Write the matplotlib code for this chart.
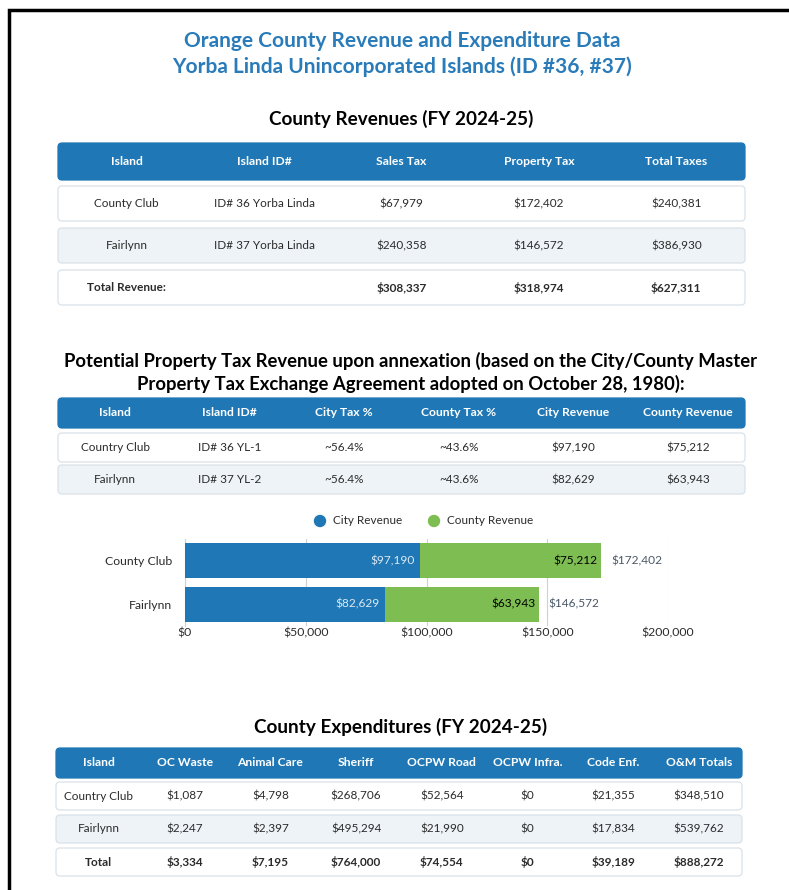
import matplotlib
matplotlib.use("Agg")
import matplotlib.pyplot as plt
from matplotlib.patches import FancyBboxPatch, Circle
import numpy as np

plt.rcParams['font.family'] = ['Lato', 'DejaVu Sans']

BLUE = '#1f78b5'
GREEN = '#7dbd52'
LIGHT = '#eef3f7'
EDGE = '#d9e2ea'
TXT = '#2b2b2b'

# --- data ---
rev_header = ['Island', 'Island ID#', 'Sales Tax', 'Property Tax', 'Total Taxes']
rev_rows = [
    ['County Club', 'ID# 36 Yorba Linda', '$67,979', '$172,402', '$240,381'],
    ['Fairlynn', 'ID# 37 Yorba Linda', '$240,358', '$146,572', '$386,930'],
    ['Total Revenue:', '', '$308,337', '$318,974', '$627,311'],
]

ptx_header = ['Island', 'Island ID#', 'City Tax %', 'County Tax %', 'City Revenue', 'County Revenue']
ptx_rows = [
    ['Country Club', 'ID# 36 YL-1', '~56.4%', '~43.6%', '$97,190', '$75,212'],
    ['Fairlynn', 'ID# 37 YL-2', '~56.4%', '~43.6%', '$82,629', '$63,943'],
]

bar_islands = ['County Club', 'Fairlynn']
city_revenue = [97190, 82629]
county_revenue = [75212, 63943]

exp_header = ['Island', 'OC Waste', 'Animal Care', 'Sheriff', 'OCPW Road',
              'OCPW Infra.', 'Code Enf.', 'O&M Totals']
exp_rows = [
    ['Country Club', '$1,087', '$4,798', '$268,706', '$52,564', '$0', '$21,355', '$348,510'],
    ['Fairlynn', '$2,247', '$2,397', '$495,294', '$21,990', '$0', '$17,834', '$539,762'],
    ['Total', '$3,334', '$7,195', '$764,000', '$74,554', '$0', '$39,189', '$888,272'],
]

W, H = 789, 890
fig = plt.figure(figsize=(W / 100, H / 100), dpi=100)
ax = fig.add_axes([0, 0, 1, 1])
ax.set_xlim(0, W)
ax.set_ylim(H, 0)
ax.axis('off')

# page border
ax.plot([9, 9, W], [H, 10, 10], color='black', lw=2.5, solid_joinstyle='miter')


def box(x0, y0, x1, y1, fc, ec):
    ax.add_patch(FancyBboxPatch((x0, y0), x1 - x0, y1 - y0,
                                boxstyle='round,pad=0,rounding_size=4',
                                fc=fc, ec=ec, lw=0.9))


def table(x0, x1, header, head_y, rows, rows_y, fs, bold_last=False):
    n = len(header)
    cx = x0 + (np.arange(n) + 0.5) * (x1 - x0) / n
    box(x0, head_y[0], x1, head_y[1], BLUE, BLUE)
    for c, h in zip(cx, header):
        ax.text(c, sum(head_y) / 2, h, ha='center', va='center', color='white',
                fontsize=fs + 0.2, fontweight='bold')
    for i, (row, (ya, yb)) in enumerate(zip(rows, rows_y)):
        box(x0, ya, x1, yb, LIGHT if i % 2 else 'white', EDGE)
        bold = bold_last and i == len(rows) - 1
        for c, v in zip(cx, row):
            ax.text(c, (ya + yb) / 2, v, ha='center', va='center', color=TXT,
                    fontsize=fs, fontweight='bold' if bold else 'normal')


# titles
ax.text(402, 41, 'Orange County Revenue and Expenditure Data', ha='center', va='center',
        color='#2a7bb9', fontsize=15, fontweight='bold')
ax.text(402, 67, 'Yorba Linda Unincorporated Islands (ID #36, #37)', ha='center', va='center',
        color='#2a7bb9', fontsize=15, fontweight='bold')
ax.text(401, 119, 'County Revenues (FY 2024-25)', ha='center', va='center',
        color='black', fontsize=13.6, fontweight='bold')

table(58, 745, rev_header, (143, 180), rev_rows,
      [(186, 221), (228, 263), (270, 305)], 8.5, bold_last=True)

ax.text(411, 361, 'Potential Property Tax Revenue upon annexation (based on the City/County Master',
        ha='center', va='center', color='black', fontsize=13.3, fontweight='bold')
ax.text(411, 384, 'Property Tax Exchange Agreement adopted on October 28, 1980):',
        ha='center', va='center', color='black', fontsize=13.3, fontweight='bold')

table(58, 745, ptx_header, (398, 428), ptx_rows, [(433, 462), (465, 494)], 8.5)

# legend
ax.add_patch(Circle((320, 521), 5.5, color=BLUE))
ax.text(333, 521, 'City Revenue', ha='left', va='center', color=TXT, fontsize=8.5)
ax.add_patch(Circle((434, 521), 5.5, color=GREEN))
ax.text(447, 521, 'County Revenue', ha='left', va='center', color=TXT, fontsize=8.5)

ax.text(401, 727, 'County Expenditures (FY 2024-25)', ha='center', va='center',
        color='black', fontsize=13.6, fontweight='bold')

table(56, 742, exp_header, (748, 778), exp_rows,
      [(782, 810), (815, 843), (848, 876)], 8.5, bold_last=True)

# stacked bar chart
bx = fig.add_axes([185 / W, 1 - 626 / H, (668 - 185) / W, 87 / H])
y = np.arange(len(bar_islands))
bx.barh(y, city_revenue, height=0.8, color=BLUE, zorder=3)
bx.barh(y, county_revenue, left=city_revenue, height=0.8, color=GREEN, zorder=3)
bx.set_xlim(0, 200000)
bx.set_ylim(1.5, -0.5)
bx.set_xticks([0, 50000, 100000, 150000, 200000])
bx.set_xticklabels(['$0', '$50,000', '$100,000', '$150,000', '$200,000'])
bx.set_yticks(y)
bx.set_yticklabels(bar_islands)
bx.tick_params(length=0, labelsize=8.8, labelcolor=TXT, pad=9)
bx.tick_params(axis='x', pad=1)
bx.grid(axis='x', color='#d0d0d0', lw=0.8, zorder=0)
for s in ['top', 'right', 'bottom']:
    bx.spines[s].set_visible(False)
bx.spines['left'].set_color('#d0d0d0')
for i in range(len(bar_islands)):
    c, k = city_revenue[i], county_revenue[i]
    bx.text(c - 2000, i, f'${c:,}', ha='right', va='center', color='#dce9f4', fontsize=8.6, zorder=4)
    bx.text(c + k - 1500, i, f'${k:,}', ha='right', va='center', color='black', fontsize=8.6, zorder=4)
    bx.text(c + k + 4000, i, f'${c + k:,}', ha='left', va='center', color='#4a5868', fontsize=8.6, zorder=4)

fig.savefig('out.png', dpi=100)
